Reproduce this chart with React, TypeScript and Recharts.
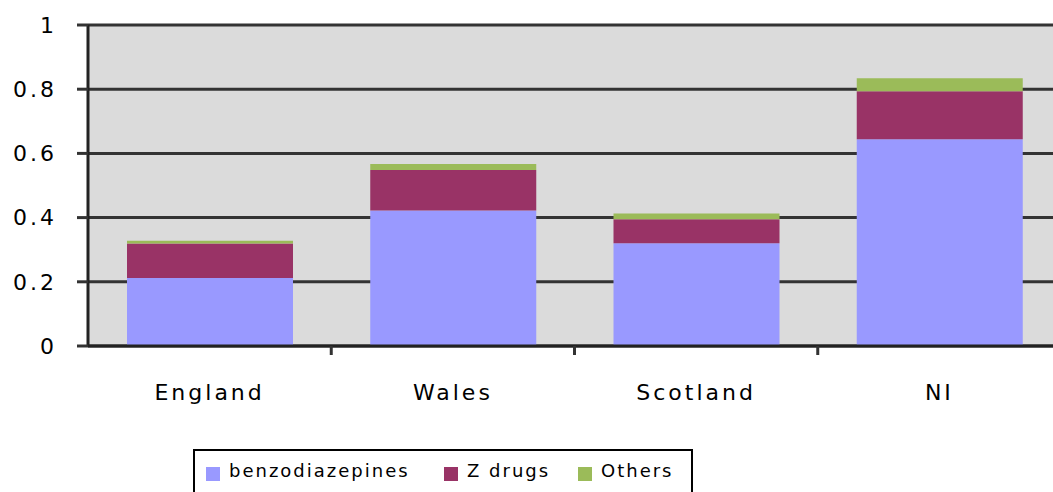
import { Bar, BarChart, CartesianGrid, Legend, XAxis, YAxis } from "recharts";

const regions = ["England", "Wales", "Scotland", "NI"];
const benzodiazepines = [0.212, 0.422, 0.32, 0.644];
const zDrugs = [0.107, 0.126, 0.075, 0.15];
const others = [0.009, 0.019, 0.018, 0.04];
const yTicks = [0, 0.2, 0.4, 0.6, 0.8, 1];

const series = [
  { key: "benzodiazepines", label: "benzodiazepines", color: "#9999ff", width: 238 },
  { key: "zdrugs", label: "Z drugs", color: "#993366", width: 134 },
  { key: "others", label: "Others", color: "#9bbb59", width: 100 }
];

const data = regions.map((name, i) => ({
  name,
  benzodiazepines: benzodiazepines[i],
  zdrugs: zDrugs[i],
  others: others[i]
}));

const CHART_W = 1070;
const MARGIN_L = 88;
const MARGIN_R = 9;
const BAND = (CHART_W - MARGIN_L - MARGIN_R) / regions.length;
const font = "'DejaVu Sans', sans-serif";

function CategoryTick({ x, y, payload, index }: any) {
  return (
    <g>
      {index < regions.length - 1 && (
        <line x1={x + BAND / 2} x2={x + BAND / 2} y1={y} y2={y + 9} stroke="#333" strokeWidth={3} />
      )}
      <text x={x} y={y + 54} textAnchor="middle" fontSize={22} letterSpacing={3} fill="#000" fontFamily={font}>
        {payload.value}
      </text>
    </g>
  );
}

function LegendBox() {
  return (
    <div
      style={{
        width: 500,
        height: 50,
        border: "2px solid #000",
        boxSizing: "border-box",
        display: "flex",
        alignItems: "flex-start",
        paddingLeft: 11,
        paddingTop: 8,
        fontFamily: font,
        fontSize: 18,
        letterSpacing: 2,
        color: "#000",
        background: "#fff"
      }}
    >
      {series.map((s) => (
        <div key={s.key} style={{ width: s.width, display: "flex", alignItems: "center" }}>
          <span style={{ width: 14, height: 14, background: s.color, marginRight: 9, marginTop: 8 }} />
          <span>{s.label}</span>
        </div>
      ))}
    </div>
  );
}

export default function App() {
  return (
    <div style={{ position: "absolute", left: 0, top: 0, width: 1053, height: 492, overflow: "hidden", background: "#fff" }}>
      <BarChart
        width={CHART_W}
        height={492}
        data={data}
        margin={{ top: 25, right: MARGIN_R, left: 0, bottom: 36 }}
        barSize={166}
      >
        <CartesianGrid vertical={false} stroke="#333" strokeWidth={3} fill="#dbdbdb" />
        <XAxis
          dataKey="name"
          height={60}
          tickLine={false}
          tickSize={0}
          tickMargin={0}
          axisLine={{ stroke: "#222", strokeWidth: 3 }}
          tick={<CategoryTick />}
          interval={0}
        />
        <YAxis
          width={MARGIN_L}
          domain={[0, 1]}
          ticks={yTicks}
          interval={0}
          tickSize={11}
          tickMargin={20}
          axisLine={{ stroke: "#222", strokeWidth: 3 }}
          tickLine={{ stroke: "#333", strokeWidth: 3 }}
          tick={{ fontSize: 22, letterSpacing: 3, fill: "#000", fontFamily: font }}
          tickFormatter={(v: number) => String(v)}
        />
        <Legend
          verticalAlign="bottom"
          content={() => <LegendBox />}
          wrapperStyle={{ position: "absolute", left: 193, top: 449, width: 500, bottom: "auto" }}
        />
        {series.map((s) => (
          <Bar key={s.key} dataKey={s.key} name={s.label} stackId="a" fill={s.color} isAnimationActive={false} />
        ))}
      </BarChart>
    </div>
  );
}
